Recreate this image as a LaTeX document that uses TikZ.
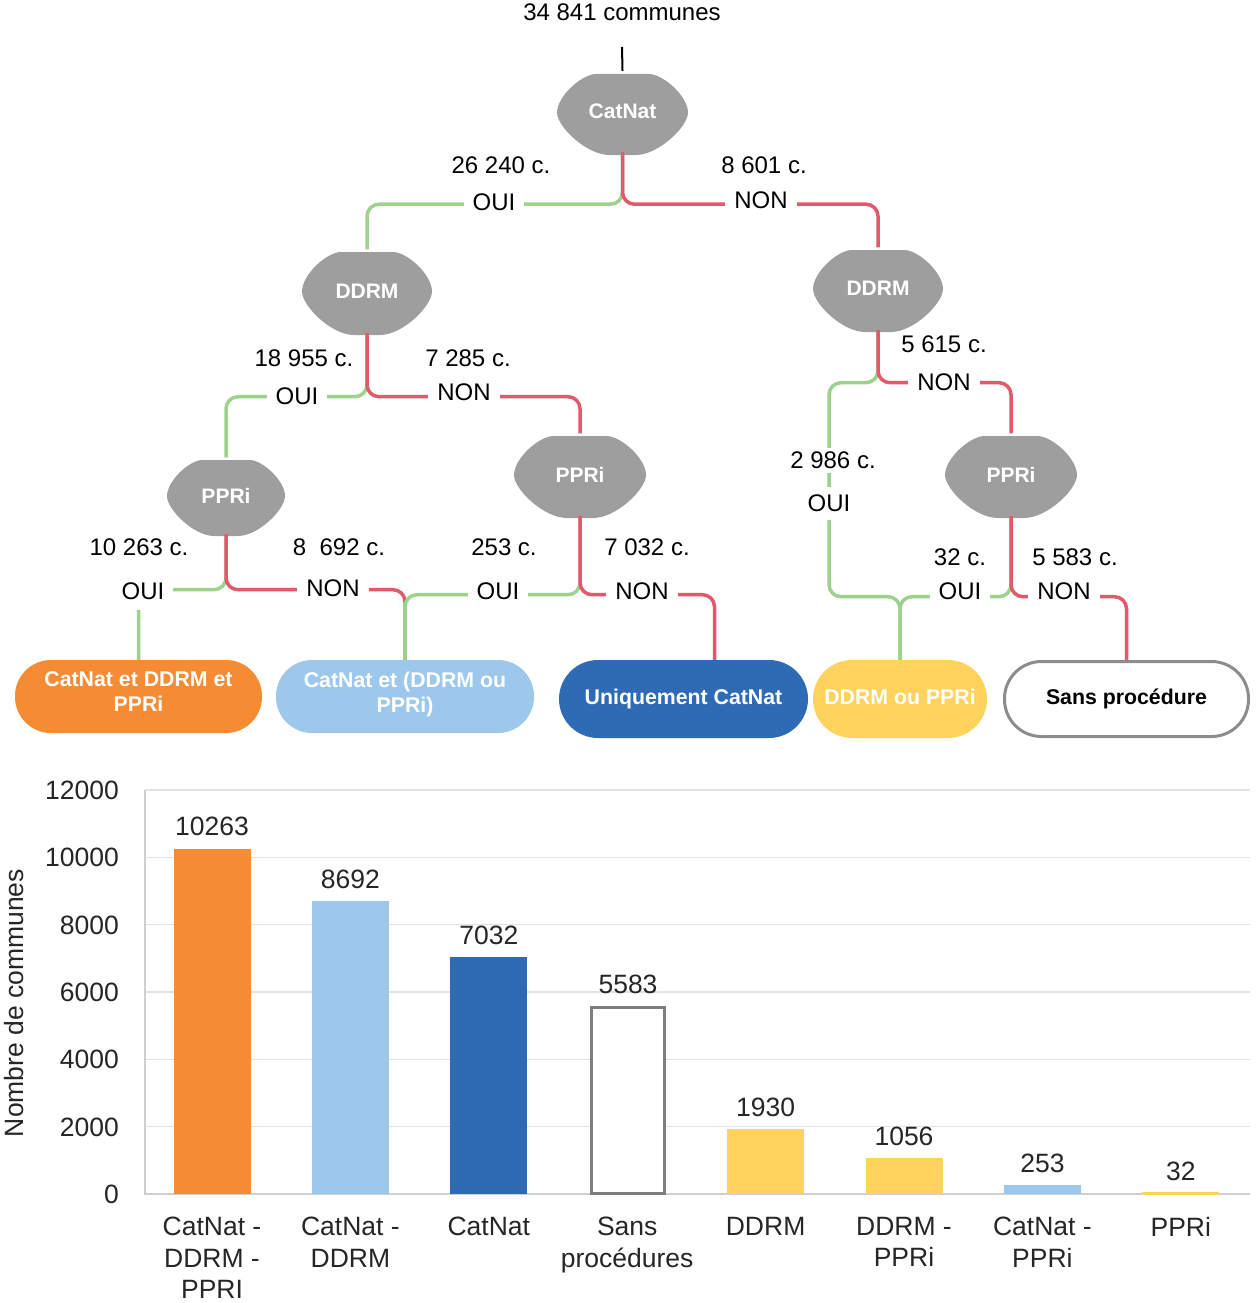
\documentclass[tikz,border=0pt]{standalone}
\usepackage{fontspec}
\setmainfont{Liberation Sans}
\usetikzlibrary{calc}
\definecolor{dgray}{HTML}{9E9E9E}
\definecolor{gline}{HTML}{9CD28C}
\definecolor{rline}{HTML}{E05A6B}
\definecolor{orange1}{HTML}{F58B33}
\definecolor{lblue}{HTML}{9DC8EB}
\definecolor{dblue}{HTML}{2F6BB5}
\definecolor{yel}{HTML}{FDD35D}
\definecolor{boxgray}{HTML}{8C8C8C}
\definecolor{bargray}{HTML}{7F7F7F}
\definecolor{gridc}{HTML}{E3E3E3}
\definecolor{axisc}{HTML}{CFCFCF}
\definecolor{ctext}{HTML}{262626}
% decision shape: center x, center y, width, height
\newcommand\myDecShape[4]{%
  \pgfmathsetmacro\mcx{#1}\pgfmathsetmacro\mcy{#2}%
  \pgfmathsetmacro\ma{#3/2}\pgfmathsetmacro\mb{#4/2}%
  \fill[dgray]
    ({\mcx-0.40*\ma},{\mcy-\mb}) -- ({\mcx+0.40*\ma},{\mcy-\mb})
    .. controls ({\mcx+0.62*\ma},{\mcy-\mb}) and ({\mcx+\ma},{\mcy-0.45*\mb}) .. ({\mcx+\ma},{\mcy-0.05*\mb})
    .. controls ({\mcx+\ma},{\mcy+0.3*\mb}) and ({\mcx+0.55*\ma},{\mcy+\mb}) .. ({\mcx+0.2*\ma},{\mcy+\mb})
    -- ({\mcx-0.2*\ma},{\mcy+\mb})
    .. controls ({\mcx-0.55*\ma},{\mcy+\mb}) and ({\mcx-\ma},{\mcy+0.3*\mb}) .. ({\mcx-\ma},{\mcy-0.05*\mb})
    .. controls ({\mcx-\ma},{\mcy-0.45*\mb}) and ({\mcx-0.62*\ma},{\mcy-\mb}) .. ({\mcx-0.40*\ma},{\mcy-\mb})
    -- cycle;}
\begin{document}
\begin{tikzpicture}[x=1pt,y=-1pt,
  decision/.style 2 args={minimum width=#1pt, minimum height=#2pt, inner sep=0pt, text=white,
    font=\fontsize{21}{25}\selectfont\bfseries},
  outcome/.style={rectangle, inner sep=0pt, align=center,
    font=\fontsize{21.3}{25}\selectfont\bfseries, text=white},
  lab/.style={font=\fontsize{24}{29}\selectfont, inner sep=0pt},
  gap/.style={lab, fill=white, inner xsep=9pt, inner ysep=4pt},
  gl/.style={draw=gline, line width=3.5pt, rounded corners=12pt},
  rl/.style={draw=rline, line width=3.5pt, rounded corners=12pt},
  chartlab/.style={font=\fontsize{26.5}{31.5}\selectfont, text=ctext, inner sep=0pt},
  xlab/.style={chartlab, align=center, anchor=north}
]
\useasboundingbox (0,0) rectangle (1255,1303);

% ---------- tree ----------
\node[lab] (top) at (622,12) {34 841 communes};
\coordinate (start) at (622,47);

\myDecShape{622.5}{114.5}{131}{81}
\myDecShape{367}{293.5}{130}{83}
\myDecShape{878}{291}{130}{82}
\myDecShape{226}{498}{118}{76}
\myDecShape{580}{477}{132}{82}
\myDecShape{1011}{477}{132}{82}
\node[decision={131}{81}] (cat) at (622.5,111.5) {CatNat};
\node[decision={130}{83}] (dl) at (367,291) {DDRM};
\node[decision={130}{82}] (dr) at (878,288.5) {DDRM};
\node[decision={118}{76}] (pl) at (226,495.5) {PPRi};
\node[decision={132}{82}] (pm) at (580,474.5) {PPRi};
\node[decision={132}{82}] (pr) at (1011,474.5) {PPRi};

\node[outcome, fill=orange1, minimum width=247pt, minimum height=73pt, rounded corners=36pt] (b1) at (138.5,696.5) {CatNat et DDRM et\\PPRi\rule[-9pt]{0pt}{0pt}};
\node[outcome, fill=lblue, minimum width=258pt, minimum height=73pt, rounded corners=36pt] (b2) at (405,696.5) {CatNat et (DDRM ou\\PPRi)\rule[-9pt]{0pt}{0pt}};
\node[outcome, fill=dblue, minimum width=249pt, minimum height=78pt, rounded corners=39pt] (b3) at (683.5,699) {Uniquement CatNat\rule[-3pt]{0pt}{0pt}};
\node[outcome, fill=yel, minimum width=174pt, minimum height=78pt, rounded corners=39pt] (b4) at (900,699) {DDRM ou PPRi\rule[-4pt]{0pt}{0pt}};
\node[outcome, draw=boxgray, line width=3pt, fill=white, text=black, minimum width=244pt, minimum height=75pt, rounded corners=37pt] (b5) at (1126.5,699) {Sans procédure\rule[-3pt]{0pt}{0pt}};

\draw[line width=2pt] (start) -- (cat.north);

% level 1
\draw[gl] (cat.south) -- ++(0,52) -| (dl.north);
\draw[rl] (cat.south) -- ++(0,52) -| (dr.north);
% level 2 left
\draw[gl] (dl.south) -- ++(0,64) -| (pl.north);
\draw[rl] (dl.south) -- ++(0,64) -| (pm.north);
% level 2 right
\draw[gl] (dr.south) -- ++(0,53) -| ++(-49,214) -| (b4.north);
\draw[rl] (dr.south) -- ++(0,53) -| (pr.north);
% level 3 left
\draw[gl] (pl.south) -- ++(0,56) -| (b1.north);
\draw[rl] (pl.south) -- ++(0,56) -| (b2.north);
% level 3 mid
\draw[gl] (pm.south) -- ++(0,79) -| (b2.north);
\draw[rl] (pm.south) -- ++(0,79) -| ([xshift=31pt]b3.north);
% level 3 right
\draw[gl] (pr.south) -- ++(0,81) -| (b4.north);
\draw[rl] (pr.south) -- ++(0,81) -| (b5.north);

% labels
\node[lab] (n1) at (501,165) {26 240 c.};
\node[gap] (o1) at (494,202) {OUI};
\node[lab] (n2) at (764,165) {8 601 c.};
\node[gap] (o2) at (761,200) {NON};

\node[lab] (n3) at (304,358) {18 955 c.};
\node[gap] (o3) at (297,396) {OUI};
\node[lab] (n4) at (468,358) {7 285 c.};
\node[gap] (o4) at (464,392) {NON};

\node[lab] (n5) at (944,344) {5 615 c.};
\node[gap] (o5) at (944,382) {NON};
\node[gap] (n6) at (833,460) {2 986 c.};
\node[gap, inner ysep=8pt] (o6) at (829,503) {OUI};

\node[lab] (n7) at (139,547) {10 263 c.};
\node[gap, inner ysep=10pt] (o7) at (143,591) {OUI};
\node[lab] (n8) at (339,547) {8~~692 c.};
\node[gap] (o8) at (333,588) {NON};

\node[lab] (n9) at (504,547) {253 c.};
\node[gap] (o9) at (498,591) {OUI};
\node[lab] (n10) at (647,547) {7 032 c.};
\node[gap] (o10) at (642,591) {NON};

\node[lab] (n11) at (960,557) {32 c.};
\node[gap] (o11) at (960,591) {OUI};
\node[lab] (n12) at (1075,557) {5 583 c.};
\node[gap] (o12) at (1064,591) {NON};

% ---------- chart ----------
\foreach \t in {2000,4000,...,12000}
  \draw[gridc, line width=1.5pt] (145,{1194-0.0336667*\t}) -- (1250,{1194-0.0336667*\t});
\foreach \t in {0,2000,...,12000}
  \node[chartlab, anchor=base east] (t\t) at (119,{1194-0.0336667*\t+9.5}) {\t};

\draw[axisc, line width=2pt] (145,790) -- (145,1194) -- (1250,1194);

\foreach \i/\v/\col in {0/10263/orange1, 1/8692/lblue, 2/7032/dblue, 4/1930/yel, 5/1056/yel, 6/253/lblue} {
  \fill[\col] ({212+138.4*\i-38.5},1194) rectangle ({212+138.4*\i+38.5},{1194-0.0336667*\v});
  \node[chartlab, anchor=base] (v\i) at ({212+138.4*\i},{1194-0.0336667*\v-13}) {\v};
}
\fill[yel] (1142.3,1194.5) rectangle (1219.3,1192);
\node[chartlab, anchor=base] (v7) at (1180.8,1180) {32};
\draw[line width=3pt, draw=bargray, fill=white] (591.5,1193) rectangle (664.5,1007.5);
\node[chartlab, anchor=base] (v3) at (628,993) {5583};

\node[xlab] (x0) at (212,1217) {CatNat -\\DDRM -\\PPRI};
\node[xlab] (x1) at (350.4,1217) {CatNat -\\DDRM};
\node[xlab] (x2) at (488.8,1217) {CatNat};
\node[xlab] (x3) at (627.2,1217) {Sans\\procédures};
\node[xlab] (x4) at (765.6,1217) {DDRM};
\node[xlab] (x5) at (904,1217) {DDRM -\\PPRi};
\node[xlab] (x6) at (1042.4,1217) {CatNat -\\PPRi};
\node[xlab] (x7) at (1180.8,1217) {PPRi};

\node[chartlab, rotate=90] (ytitle) at (14,1003) {Nombre de communes};
\end{tikzpicture}
\end{document}
